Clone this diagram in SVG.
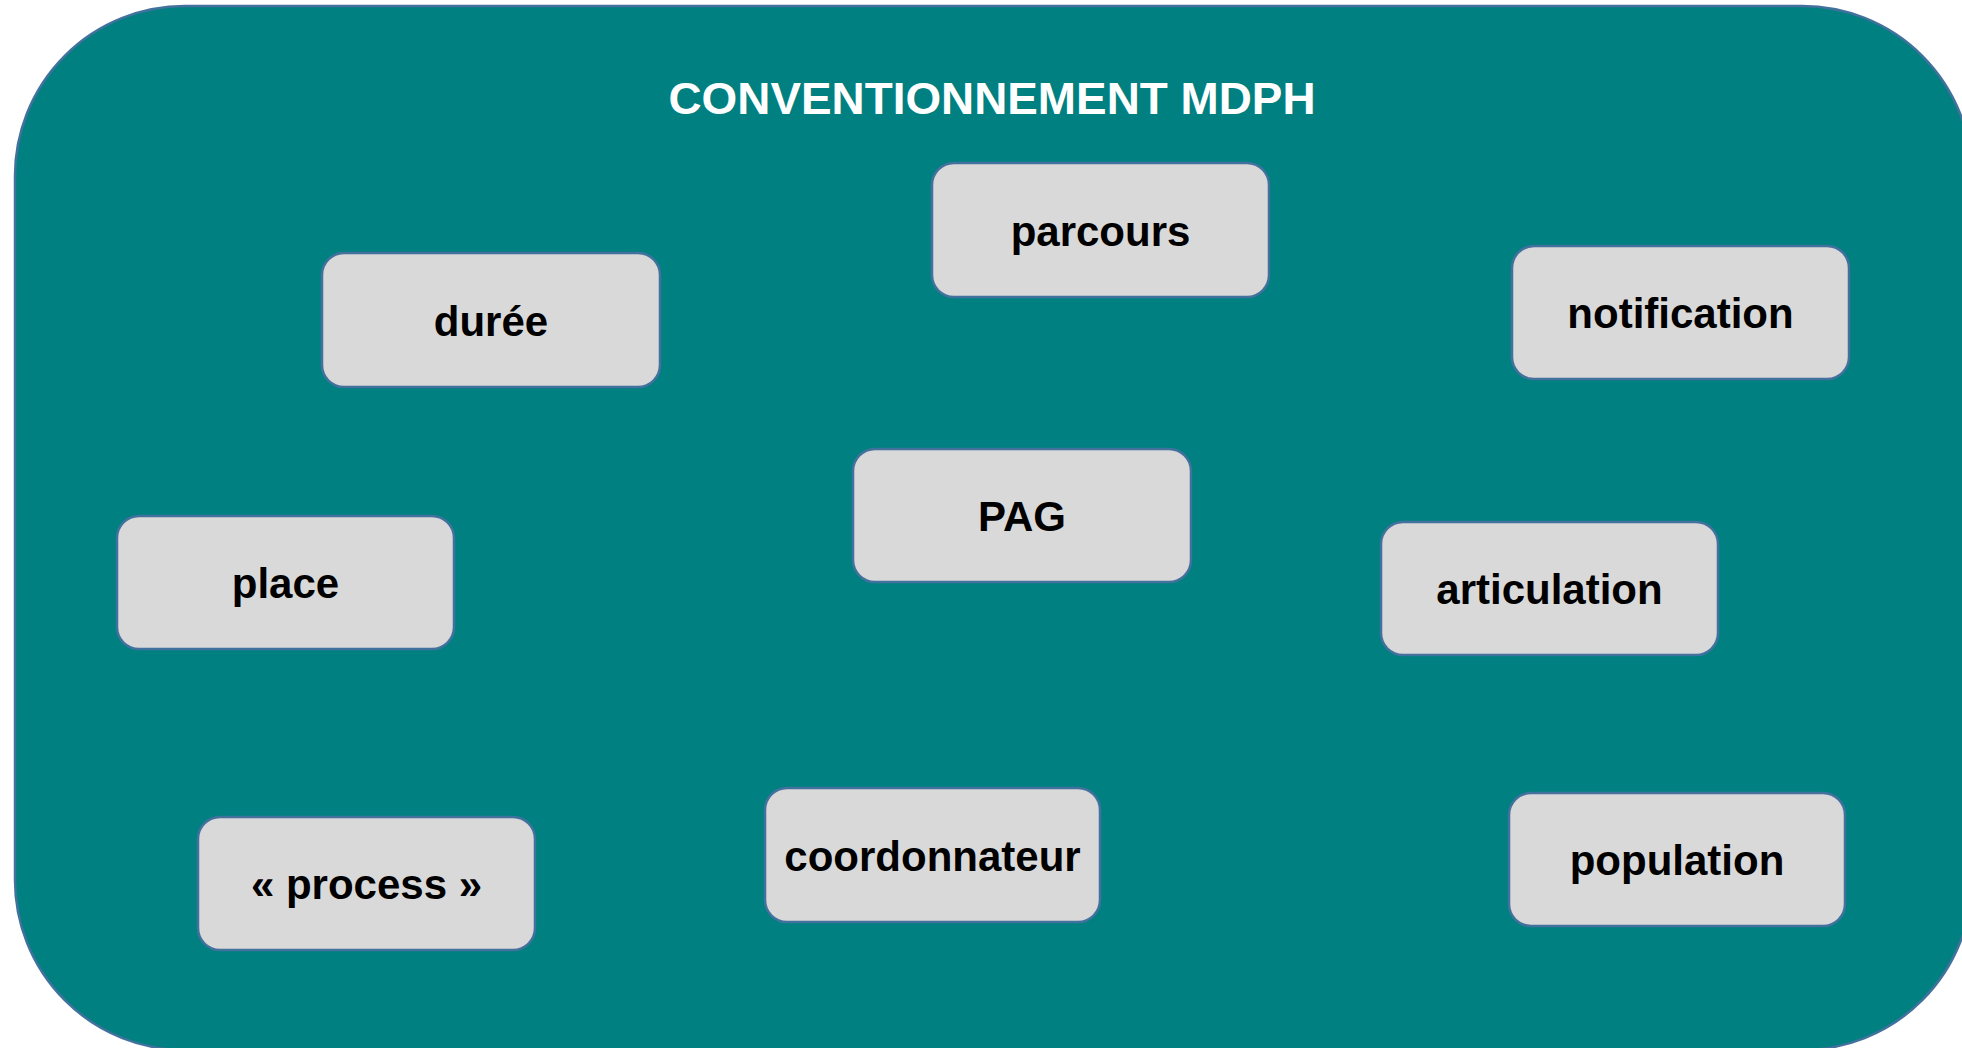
<svg xmlns="http://www.w3.org/2000/svg" width="1962" height="1048" viewBox="0 0 1962 1048">
<style>
.bg{fill:#008080;stroke:#41719C;stroke-width:2.5}
.box{fill:#D9D9D9;stroke:#41719C;stroke-width:2.5}
.lbl{font-family:"Liberation Sans",Arial,sans-serif;font-weight:bold;font-size:42px;fill:#000;text-anchor:middle}
.title{font-family:"Liberation Sans",Arial,sans-serif;font-weight:bold;font-size:44px;fill:#fff;text-anchor:middle}
</style>
<rect width="1962" height="1048" fill="#fff"/>
<g id="container">
<rect class="bg" x="15" y="6" width="1957" height="1044" rx="170" ry="170"/>
<text class="title" x="992" y="114" textLength="647" lengthAdjust="spacingAndGlyphs">CONVENTIONNEMENT MDPH</text>
</g>
<g id="connectors"></g>
<g id="parcours"><rect class="box" x="932" y="163" width="337" height="134" rx="22"/><text class="lbl" x="1100.5" y="246">parcours</text></g>
<g id="duree"><rect class="box" x="322" y="253" width="338" height="134" rx="22"/><text class="lbl" x="491" y="336">durée</text></g>
<g id="notification"><rect class="box" x="1512" y="246" width="337" height="133" rx="22"/><text class="lbl" x="1680.5" y="328">notification</text></g>
<g id="pag"><rect class="box" x="853" y="449" width="338" height="133" rx="22"/><text class="lbl" x="1022" y="531">PAG</text></g>
<g id="place"><rect class="box" x="117" y="516" width="337" height="133" rx="22"/><text class="lbl" x="285.5" y="598">place</text></g>
<g id="articulation"><rect class="box" x="1381" y="522" width="337" height="133" rx="22"/><text class="lbl" x="1549.5" y="604">articulation</text></g>
<g id="process"><rect class="box" x="198" y="817" width="337" height="133" rx="22"/><text class="lbl" x="366.5" y="899">« process »</text></g>
<g id="coordonnateur"><rect class="box" x="765" y="788" width="335" height="134" rx="22"/><text class="lbl" x="932.5" y="871">coordonnateur</text></g>
<g id="population"><rect class="box" x="1509" y="793" width="336" height="133" rx="22"/><text class="lbl" x="1677" y="875">population</text></g>
</svg>
